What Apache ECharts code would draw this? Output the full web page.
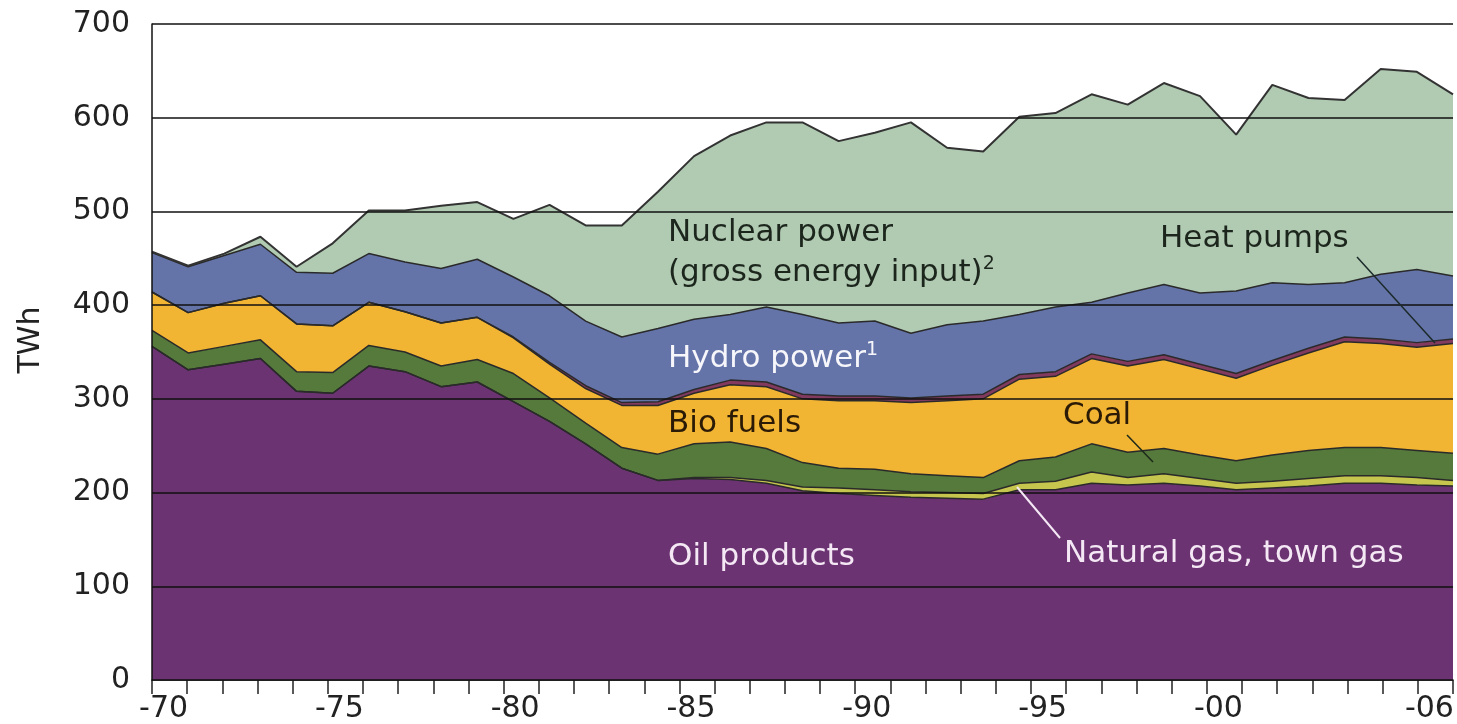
<!DOCTYPE html>
<html>
<head>
<meta charset="utf-8">
<script src="https://cdn.jsdelivr.net/npm/echarts@6/dist/echarts.min.js"></script>
<style>
html,body{margin:0;padding:0;background:#fff;}
#chart{width:1457px;height:724px;}
</style>
</head>
<body>
<div id="chart"></div>
<script>
const years = [1970,1971,1972,1973,1974,1975,1976,1977,1978,1979,1980,1981,1982,1983,1984,1985,1986,1987,1988,1989,1990,1991,1992,1993,1994,1995,1996,1997,1998,1999,2000,2001,2002,2003,2004,2005,2006];
const tickLabels = {1970:'-70',1975:'-75',1980:'-80',1985:'-85',1990:'-90',1995:'-95',2000:'-00',2006:'-06'};
const oilProducts = [356,331,337,343,308,306,335,329,313,318,297,276,252,226,213,215,214,210,202,199,197,195,194,193,203,203,210,208,210,207,203,205,207,210,210,208,207];
const naturalGas  = [0,0,0,0,0,0,0,0,0,0,0,0,0,0,0,1,2,3,4,6,6,6,6,6,7,9,12,8,10,8,7,7,8,8,8,8,6];
const coal        = [17,18,19,20,21,22,22,21,22,24,30,25,22,22,28,36,38,34,26,21,22,19,18,17,24,26,30,27,27,25,24,28,30,30,30,29,29];
const bioFuels    = [41,43,46,47,51,50,46,43,46,45,38,36,37,45,52,54,61,66,68,72,73,76,80,84,87,86,91,92,95,92,88,96,104,113,111,110,117];
const heatPumps   = [0,0,0,0,0,0,0,0,0,0,1,2,3,3,4,4,5,5,5,5,5,5,5,5,5,5,5,5,5,5,5,5,5,5,5,5,5];
const hydroPower  = [42,49,51,55,55,56,52,53,58,62,64,71,69,70,78,75,70,80,85,78,80,69,76,78,64,69,55,73,75,76,88,83,68,58,69,78,67];
const nuclear     = [1,1,2,8,6,32,46,55,67,61,62,97,102,119,146,174,191,197,205,194,201,225,189,181,211,207,222,201,215,210,167,211,199,195,219,211,194];

const FONT = 'DejaVu Sans';
const chart = echarts.init(document.getElementById('chart'), null, {renderer:'canvas'});

function mk(name, data, color, lineColor, lw) {
  return {
    name, type:'line', xAxisIndex:1, stack:'total', data,
    symbol:'none', smooth:false,
    lineStyle:{color:lineColor||'#2a2a2a', width:lw||1.5},
    areaStyle:{color, opacity:1},
    itemStyle:{color},
    z:2
  };
}

const DARK = '#1d261d';
const LIGHT = '#f5e8f5';

function txt(x, y, text, fill, sup) {
  const rich = {
    a:{fill, fontSize:31, fontFamily:FONT, lineHeight:36},
    s:{fill, fontSize:19, fontFamily:FONT, lineHeight:36, verticalAlign:'top'}
  };
  return {type:'text', x, y, z:100,
    style:{text: '{a|'+text+'}' + (sup ? '{s|'+sup+'}' : ''), rich,
           fontSize:31, fontFamily:FONT, fill, verticalAlign:'middle', align:'left'}};
}

const option = {
  animation:false,
  backgroundColor:'#ffffff',
  grid:{left:152, right:4, top:24, bottom:44, containLabel:false},
  xAxis:[
    {
      type:'category', data:years, boundaryGap:true, position:'bottom',
      axisLine:{show:true, lineStyle:{color:'#111', width:1.5}},
      axisTick:{show:true, interval:0, length:14, lineStyle:{color:'#222', width:1.5}},
      axisLabel:{
        interval:(i,v)=> tickLabels[v]!==undefined,
        formatter:(v)=> tickLabels[v]||'',
        fontFamily:FONT, fontSize:30, color:'#222', margin:14,
        padding:[0,12,0,0]
      },
      splitLine:{show:false}
    },
    {
      type:'category', data:years, boundaryGap:false, show:false
    }
  ],
  yAxis:{
    type:'value', min:0, max:700, interval:100, z:10,
    axisLine:{show:true, lineStyle:{color:'#111', width:1.5}},
    axisTick:{show:false},
    axisLabel:{fontFamily:FONT, fontSize:30, color:'#222', margin:22},
    splitLine:{show:true, lineStyle:{color:'#111', width:1.5}}
  },
  series:[
    mk('Oil products', oilProducts, '#6b3372'),
    mk('Natural gas, town gas', naturalGas, '#c6c64e'),
    mk('Coal', coal, '#557a3b'),
    mk('Bio fuels', bioFuels, '#f1b433'),
    mk('Heat pumps', heatPumps, '#823a5e'),
    mk('Hydro power', hydroPower, '#6474a9'),
    mk('Nuclear power', nuclear, '#b1cbb3', '#333', 2)
  ],
  graphic:[
    {type:'text', x:31, y:340, rotation:Math.PI/2, z:100,
      style:{text:'TWh', fontSize:30, fontFamily:FONT, fill:'#222', align:'center', verticalAlign:'middle'}},
    txt(668, 233, 'Nuclear power', DARK),
    txt(668, 273, '(gross energy input)', DARK, '2'),
    txt(1160, 239, 'Heat pumps', DARK),
    txt(668, 359, 'Hydro power', '#f6f6fb', '1'),
    txt(668, 424, 'Bio fuels', '#2a1a06'),
    txt(1063, 416, 'Coal', '#2a1a06'),
    txt(668, 557, 'Oil products', LIGHT),
    txt(1064, 554, 'Natural gas, town gas', LIGHT),
    {type:'line', z:100, shape:{x1:1357,y1:257,x2:1435,y2:343}, style:{stroke:'#1d2a2a', lineWidth:1.5}},
    {type:'line', z:100, shape:{x1:1127,y1:435,x2:1153,y2:462}, style:{stroke:'#1d2a1a', lineWidth:1.5}},
    {type:'line', z:100, shape:{x1:1017,y1:487,x2:1060,y2:538}, style:{stroke:LIGHT, lineWidth:2}}
  ]
};
chart.setOption(option);
</script>
</body>
</html>
